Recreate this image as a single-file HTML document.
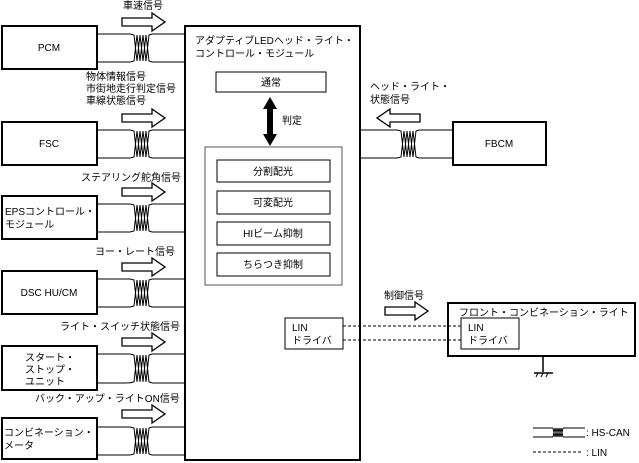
<!DOCTYPE html>
<html><head><meta charset="utf-8"><style>
body{margin:0;background:#fff}
svg{display:block}
text{font-family:"Liberation Sans","Noto Sans CJK JP",sans-serif;font-size:10px;fill:#000}
</style></head><body>
<svg width="639" height="463" viewBox="0 0 639 463" xmlns="http://www.w3.org/2000/svg">
<defs>
<g id="tw" fill="none" stroke="#000" stroke-width="1">
<polyline points="126,0 130,0 134,1 137,27 140,1 143,27 146,1 149,27 152,28"/>
<polyline points="126,28 130,28 134,27 137,1 140,27 143,1 146,27 149,1 152,0"/>
</g>
<path id="ar" d="M0,3 H30 V-2 L43,7 L30,16 V11 H0 Z" fill="#fff" stroke="#000" stroke-width="1.3"/>
</defs>
<g fill="#fff" stroke="#000" stroke-width="2">
<rect x="2" y="26" width="95" height="43"/>
<rect x="2" y="122" width="95" height="43"/>
<rect x="2" y="196" width="95" height="43"/>
<rect x="2" y="271" width="95" height="43"/>
<rect x="2" y="346" width="95" height="44"/>
<rect x="2" y="418" width="95" height="41"/>
<rect x="185" y="26" width="175" height="434"/>
<rect x="453" y="122" width="93" height="43"/>
<rect x="448" y="303" width="187" height="53"/>
</g>
<!-- wires left -->
<g stroke="#000" fill="none">
<path d="M97,34H126M152,34H185M97,62H126M152,62H185"/>
<path d="M97,130H126M152,130H185M97,158H126M152,158H185"/>
<path d="M97,204H126M152,204H185M97,232H126M152,232H185"/>
<path d="M97,279H126M152,279H185M97,307H126M152,307H185"/>
<path d="M97,354H126M152,354H185M97,383H126M152,383H185"/>
<path d="M97,427H126M152,427H185M97,455H126M152,455H185"/>
<path d="M360,130H393M419,130H453M360,158H393M419,158H453"/>
</g>
<use href="#tw" transform="translate(0,34)"/>
<use href="#tw" transform="translate(0,130)"/>
<use href="#tw" transform="translate(0,204)"/>
<use href="#tw" transform="translate(0,279)"/>
<use href="#tw" transform="translate(0,354) scale(1,1.03)"/>
<use href="#tw" transform="translate(0,427)"/>
<use href="#tw" transform="translate(267,130)"/>
<use href="#ar" transform="translate(122,15)"/>
<use href="#ar" transform="translate(122,111)"/>
<use href="#ar" transform="translate(122,185)"/>
<use href="#ar" transform="translate(122,260)"/>
<use href="#ar" transform="translate(122,335)"/>
<use href="#ar" transform="translate(122,407)"/>
<use href="#ar" transform="translate(420,111) scale(-1,1)"/>
<use href="#ar" transform="translate(385,304)"/>
<g text-anchor="middle">
<text x="49" y="51">PCM</text>
<text x="49" y="147">FSC</text>
<text x="49" y="296">DSC HU/CM</text>
<text x="499" y="147">FBCM</text>
</g>
<text x="5" y="215">EPSコントロール・</text>
<text x="5" y="228">モジュール</text>
<text x="25" y="361">スタート・</text>
<text x="25" y="373">ストップ・</text>
<text x="25" y="385">ユニット</text>
<text x="4" y="436">コンビネーション・</text>
<text x="4" y="449">メータ</text>
<text x="123" y="9">車速信号</text>
<text x="86" y="80">物体情報信号</text>
<text x="86" y="92">市街地走行判定信号</text>
<text x="86" y="104">車線状態信号</text>
<text x="81" y="181">ステアリング舵角信号</text>
<text x="95" y="255">ヨー・レート信号</text>
<text x="60" y="330">ライト・スイッチ状態信号</text>
<text x="35" y="402">バック・アップ・ライトON信号</text>
<text x="370" y="90">ヘッド・ライト・</text>
<text x="370" y="103">状態信号</text>
<text x="384" y="299">制御信号</text>
<text x="195" y="44">アダプティブLEDヘッド・ライト・</text>
<text x="195" y="57">コントロール・モジュール</text>
<g fill="#fff" stroke="#000" stroke-width="1">
<rect x="216" y="72" width="110" height="20"/>
<rect x="205" y="147" width="137" height="138" stroke="#555"/>
<rect x="217" y="160" width="113" height="22"/>
<rect x="217" y="191" width="113" height="23"/>
<rect x="217" y="222" width="113" height="23"/>
<rect x="217" y="253" width="113" height="23"/>
<rect x="285" y="318" width="58" height="31"/>
<rect x="461" y="318" width="58" height="31"/>
</g>
<path d="M270,97 L277,109 H273 V134 H277 L270,146 L263,134 H267 V109 H263 Z" fill="#000"/>
<text x="282" y="124">判定</text>
<g text-anchor="middle">
<text x="271" y="86">通常</text>
<text x="273" y="175">分割配光</text>
<text x="273" y="206">可変配光</text>
<text x="273" y="237">HIビーム抑制</text>
<text x="273" y="268">ちらつき抑制</text>
</g>
<text x="292" y="331">LIN</text>
<text x="292" y="344">ドライバ</text>
<text x="468" y="331">LIN</text>
<text x="468" y="344">ドライバ</text>
<text x="459" y="316">フロント・コンビネーション・ライト</text>
<g stroke="#000" stroke-dasharray="3,2" fill="none">
<path d="M343,326H461M343,340H461"/>
<path d="M533,452H583"/>
</g>
<path d="M543,356V372M534,373H553" stroke="#000" stroke-width="1.5"/>
<path d="M536,377l2,-4M541,377l2,-4M546,377l2,-4" stroke="#000"/>
<g stroke="#000" fill="none">
<path d="M533,428H553M563,428H585M533,437H553M563,437H585"/>
<polyline points="553,428 555,437 557,428 559,437 561,428 563,437"/>
<polyline points="553,437 555,428 557,437 559,428 561,437 563,428"/>
</g>
<text x="586" y="436">: HS-CAN</text>
<text x="586" y="456">: LIN</text>
</svg>
</body></html>
